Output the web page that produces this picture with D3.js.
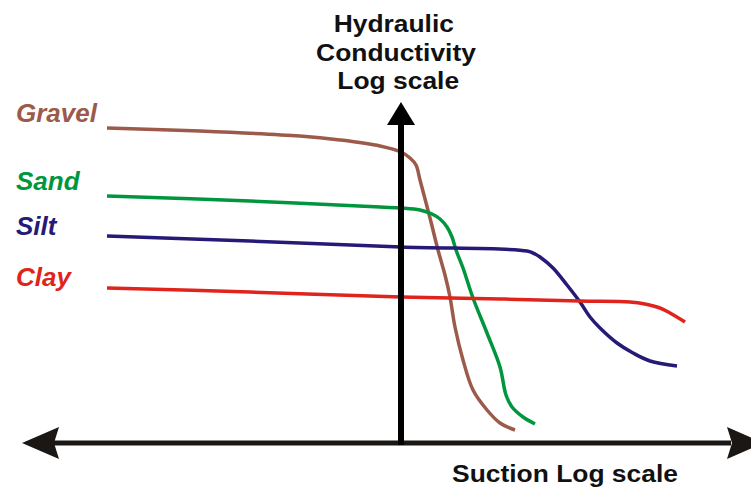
<!DOCTYPE html>
<html>
<head>
<meta charset="utf-8">
<script src="https://cdn.jsdelivr.net/npm/d3@7"></script>
<style>
  html, body { margin: 0; padding: 0; background: #fff; }
  svg { display: block; font-family: "Liberation Sans", Arial, sans-serif; }
</style>
</head>
<body>
<div id="chart"></div>
<script>
const width = 751;
const height = 488;

// log suction (x) vs log hydraulic conductivity (y), arbitrary units, origin at the axes
const gravelX = [-5.88, -4.02, -2.02, -1.22, -0.42, 0, 0.18, 0.30, 0.38, 0.58, 0.74, 0.88, 0.98, 1.08, 1.24, 1.44, 1.72, 1.98, 2.28];
const gravelY = [6.30, 6.24, 6.14, 6.06, 5.94, 5.82, 5.70, 5.56, 5.26, 4.50, 3.86, 3.36, 2.92, 2.32, 1.66, 1.06, 0.66, 0.40, 0.26];
const sandX = [-5.88, -3.02, -0.42, 0, 0.38, 0.62, 0.78, 0.92, 1.02, 1.10, 1.24, 1.44, 1.72, 1.98, 2.10, 2.22, 2.44, 2.68];
const sandY = [4.94, 4.84, 4.72, 4.70, 4.66, 4.58, 4.48, 4.32, 4.12, 3.86, 3.50, 2.90, 2.20, 1.52, 0.96, 0.72, 0.52, 0.38];
const siltX = [-5.88, -3.02, 0, 2.52, 2.68, 2.78, 3.04, 3.32, 3.58, 3.78, 3.98, 4.32, 4.64, 4.98, 5.52];
const siltY = [4.14, 4.04, 3.92, 3.84, 3.78, 3.72, 3.50, 3.16, 2.82, 2.52, 2.30, 2.00, 1.80, 1.64, 1.54];
const clayX = [-5.88, -3.02, 0, 1.98, 3.58, 4.58, 4.88, 5.18, 5.38, 5.68];
const clayY = [3.10, 3.02, 2.92, 2.88, 2.84, 2.82, 2.78, 2.70, 2.60, 2.42];

const soilNames = ['Gravel', 'Sand', 'Silt', 'Clay'];
const soilColors = ['#9c5a4a', '#00963e', '#261a77', '#e0231c'];
const labelY = [122, 190, 235, 286]; // baselines of the left-hand labels

const series = [
  { name: 'Gravel', xs: gravelX, ys: gravelY },
  { name: 'Sand', xs: sandX, ys: sandY },
  { name: 'Silt', xs: siltX, ys: siltY },
  { name: 'Clay', xs: clayX, ys: clayY }
];

const x = d3.scaleLinear().domain([-8, 8]).range([1, 801]);
const y = d3.scaleLinear().domain([0, 8]).range([443, 43]);

const svg = d3.select('#chart').append('svg')
  .attr('width', width)
  .attr('height', height);

const line = d3.line()
  .x(d => x(d[0]))
  .y(d => y(d[1]))
  .curve(d3.curveCatmullRom.alpha(0.5));

// curves
svg.selectAll('.curve')
  .data(series)
  .enter()
  .append('path')
  .attr('class', 'curve')
  .attr('d', s => line(s.xs.map((v, i) => [v, s.ys[i]])))
  .attr('fill', 'none')
  .attr('stroke', (s, i) => soilColors[i])
  .attr('stroke-width', 3.5)
  .attr('stroke-linecap', 'butt');

// soil labels
svg.selectAll('.soil-label')
  .data(soilNames)
  .enter()
  .append('text')
  .attr('class', 'soil-label')
  .attr('x', 16)
  .attr('y', (d, i) => labelY[i])
  .attr('fill', (d, i) => soilColors[i])
  .attr('font-size', 26)
  .attr('font-weight', 'bold')
  .attr('font-style', 'italic')
  .text(d => d);

// axes
const axisColor = '#1a1714';
const x0 = x(0);
const y0 = y(0);

// horizontal double arrow
svg.append('line')
  .attr('x1', 54).attr('x2', 731)
  .attr('y1', y0).attr('y2', y0)
  .attr('stroke', axisColor)
  .attr('stroke-width', 5);
svg.append('path')
  .attr('d', `M22,${y0} L59,${y0 - 16} L54,${y0} L59,${y0 + 16} Z`)
  .attr('fill', axisColor);
svg.append('path')
  .attr('d', `M764,${y0} L727,${y0 - 16} L732,${y0} L727,${y0 + 16} Z`)
  .attr('fill', axisColor);

// vertical arrow
svg.append('line')
  .attr('x1', x0).attr('x2', x0)
  .attr('y1', 122).attr('y2', y0 + 2)
  .attr('stroke', '#000')
  .attr('stroke-width', 6);
svg.append('path')
  .attr('d', `M${x0},102 L${x0 + 14},125 L${x0 - 14},125 Z`)
  .attr('fill', '#000');

// axis titles
const title = svg.append('g')
  .attr('transform', `translate(${x0 - 5},0) scale(1.1,1)`)
  .attr('font-size', 24)
  .attr('font-weight', 'bold')
  .attr('fill', '#111')
  .attr('text-anchor', 'middle');
title.append('text').attr('x', -2).attr('y', 32).text('Hydraulic');
title.append('text').attr('x', 0).attr('y', 61).text('Conductivity');
title.append('text').attr('x', 2).attr('y', 89).text('Log scale');

svg.append('g')
  .attr('transform', `translate(565,0) scale(1.1,1)`)
  .append('text')
  .attr('x', 0)
  .attr('y', 482)
  .attr('font-size', 24)
  .attr('font-weight', 'bold')
  .attr('fill', '#111')
  .attr('text-anchor', 'middle')
  .text('Suction Log scale');
</script>
</body>
</html>
